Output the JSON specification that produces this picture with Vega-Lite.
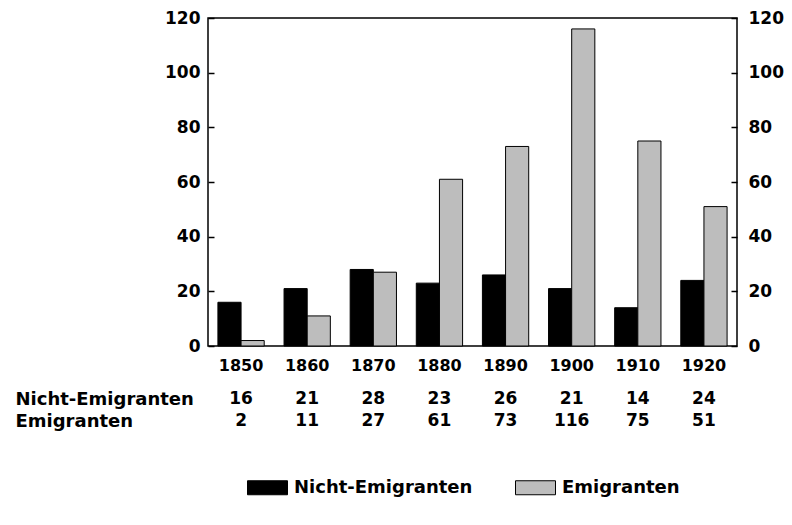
{
  "$schema": "https://vega.github.io/schema/vega-lite/v6.json",
  "autosize": {"type": "pad"},
  "padding": {"left": 15, "top": 8, "right": 5, "bottom": 5},
  "background": "white",
  "config": {
    "view": {"stroke": null},
    "font": "DejaVu Sans",
    "axis": {"labelColor": "black", "labelFont": "DejaVu Sans", "labelFontWeight": "bold", "title": null},
    "concat": {"spacing": 42}
  },
  "data": {
    "values": [
      {"year": "1850", "series": "Nicht-Emigranten", "value": 16},
      {"year": "1850", "series": "Emigranten", "value": 2},
      {"year": "1860", "series": "Nicht-Emigranten", "value": 21},
      {"year": "1860", "series": "Emigranten", "value": 11},
      {"year": "1870", "series": "Nicht-Emigranten", "value": 28},
      {"year": "1870", "series": "Emigranten", "value": 27},
      {"year": "1880", "series": "Nicht-Emigranten", "value": 23},
      {"year": "1880", "series": "Emigranten", "value": 61},
      {"year": "1890", "series": "Nicht-Emigranten", "value": 26},
      {"year": "1890", "series": "Emigranten", "value": 73},
      {"year": "1900", "series": "Nicht-Emigranten", "value": 21},
      {"year": "1900", "series": "Emigranten", "value": 116},
      {"year": "1910", "series": "Nicht-Emigranten", "value": 14},
      {"year": "1910", "series": "Emigranten", "value": 75},
      {"year": "1920", "series": "Nicht-Emigranten", "value": 24},
      {"year": "1920", "series": "Emigranten", "value": 51}
    ]
  },
  "bounds": "flush",
  "vconcat": [
    {
      "width": 529,
      "height": 328,
      "view": {"stroke": "black", "strokeWidth": 1.5},
      "encoding": {
        "x": {
          "field": "year", "type": "ordinal",
          "scale": {"paddingInner": 0.3, "paddingOuter": 0.15},
          "axis": {"labelAngle": 0, "ticks": false, "domain": false, "labelPadding": 11, "labelFontSize": 16}
        },
        "xOffset": {"field": "series", "type": "nominal", "sort": ["Nicht-Emigranten", "Emigranten"], "scale": {"paddingInner": 0, "paddingOuter": 0}}
      },
      "layer": [
        {
          "mark": {"type": "bar", "stroke": "black", "strokeWidth": 1},
          "encoding": {
            "y": {
              "field": "value", "type": "quantitative",
              "scale": {"domain": [0, 120], "nice": false},
              "axis": {"orient": "left", "values": [0, 20, 40, 60, 80, 100, 120], "domain": false, "grid": false, "tickSize": -6, "tickWidth": 1.5, "tickColor": "black", "labelPadding": 14, "labelFontSize": 17}
            },
            "color": {
              "field": "series", "type": "nominal",
              "sort": ["Nicht-Emigranten", "Emigranten"],
              "scale": {"domain": ["Nicht-Emigranten", "Emigranten"], "range": ["#000000", "#bdbdbd"]},
              "legend": {
                "orient": "none", "legendX": 39, "legendY": 449,
                "direction": "horizontal", "title": null,
                "symbolType": "M-1,-0.35H1V0.35H-1Z", "symbolSize": 1600,
                "symbolStrokeColor": "black", "symbolStrokeWidth": 1, "symbolOpacity": 1,
                "labelFontSize": 18, "labelFontWeight": "bold", "labelFont": "DejaVu Sans", "labelColor": "black",
                "labelOffset": 6, "columnPadding": 40, "labelLimit": 0, "padding": 0
              }
            }
          }
        },
        {
          "mark": {"type": "bar", "opacity": 0},
          "encoding": {
            "y": {
              "field": "value", "type": "quantitative",
              "scale": {"domain": [0, 120], "nice": false},
              "axis": {"orient": "right", "values": [0, 20, 40, 60, 80, 100, 120], "domain": false, "grid": false, "tickSize": -6, "tickWidth": 1.5, "tickColor": "black", "labelPadding": 17, "labelFontSize": 17}
            }
          }
        }
      ],
      "resolve": {"scale": {"y": "independent"}, "axis": {"y": "independent"}}
    },
    {
      "width": 529,
      "height": 44,
      "mark": {"type": "text", "fontSize": 17, "fontWeight": "bold", "font": "DejaVu Sans", "color": "black"},
      "encoding": {
        "x": {"field": "year", "type": "ordinal", "scale": {"paddingInner": 0.3, "paddingOuter": 0.15}, "axis": null},
        "y": {
          "field": "series", "type": "nominal", "sort": ["Nicht-Emigranten", "Emigranten"],
          "axis": {"ticks": false, "domain": false, "labelAlign": "left", "labelPadding": 193, "labelFontSize": 18, "labelLimit": 0}
        },
        "text": {"field": "value", "type": "quantitative"}
      }
    }
  ],
  "resolve": {"scale": {"x": "independent", "y": "independent"}}
}
